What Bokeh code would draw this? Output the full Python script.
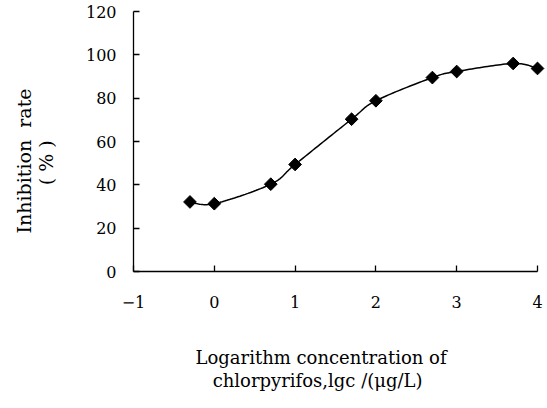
import numpy as np
from bokeh.plotting import figure
from bokeh.models import Range1d, FixedTicker, Title
from bokeh.embed import file_html
from bokeh.resources import INLINE

# ---- data ----
log_conc = [-0.301, 0.0, 0.699, 1.0, 1.699, 2.0, 2.699, 3.0, 3.699, 4.0]
inhibition = [32.1, 31.3, 40.3, 49.4, 70.3, 78.8, 89.5, 92.3, 96.0, 93.7]
x_ticks = [-1, 0, 1, 2, 3, 4]
y_ticks = [0, 20, 40, 60, 80, 100, 120]
x_label_lines = ["Logarithm concentration of", "chlorpyrifos,lgc /(\u03bcg/L)"]
y_label_lines = ["Inhibition\u00a0\u00a0rate", "(\u00a0%\u00a0)"]

FONT = "DejaVu Serif"
NB = "\u00a0"


def smooth(xs, ys, n=24):
    """Excel-style smoothed line (Catmull-Rom as cubic Bezier)."""
    pts = np.column_stack([xs, ys]).astype(float)
    out = []
    m = len(pts)
    for i in range(m - 1):
        p0 = pts[i - 1] if i > 0 else pts[i]
        p1 = pts[i]
        p2 = pts[i + 1]
        p3 = pts[i + 2] if i + 2 < m else pts[i + 1]
        c1 = p1 + (p2 - p0) / 6.0
        c2 = p2 - (p3 - p1) / 6.0
        t = np.linspace(0, 1, n, endpoint=(i == m - 2))[:, None]
        seg = ((1 - t) ** 3) * p1 + 3 * ((1 - t) ** 2) * t * c1 + 3 * (1 - t) * t ** 2 * c2 + t ** 3 * p2
        out.append(seg)
    arr = np.vstack(out)
    return arr[:, 0], arr[:, 1]


p = figure(width=545, height=405,
           x_range=Range1d(-1, 4.099), y_range=Range1d(0, 120),
           output_backend="svg", toolbar_location=None,
           min_border_left=133, min_border_right=0,
           min_border_top=11, min_border_bottom=134)
p.outline_line_color = None
p.grid.visible = False
p.background_fill_color = "white"
p.border_fill_color = "white"

for ax in (p.xaxis[0], p.yaxis[0]):
    ax.axis_line_color = "black"
    ax.axis_line_width = 1.3
    ax.major_tick_line_color = "black"
    ax.major_tick_line_width = 1.3
    ax.major_tick_in = 6
    ax.major_tick_out = 0
    ax.minor_tick_line_color = None
    ax.major_label_text_font = FONT
    ax.major_label_text_font_size = "16px"
    ax.major_label_text_color = "black"

p.xaxis[0].ticker = FixedTicker(ticks=x_ticks)
p.xaxis[0].bounds = (-1, 4)
p.xaxis[0].major_label_standoff = 24
p.xaxis[0].major_label_overrides = {-1: "\u22121"}
p.yaxis[0].ticker = FixedTicker(ticks=y_ticks)
p.yaxis[0].major_label_standoff = 17

sx, sy = smooth(log_conc, inhibition)
p.line(sx, sy, line_color="black", line_width=1.5)
p.scatter(log_conc, inhibition, marker="square", size=9, angle=np.pi / 4,
          fill_color="black", line_color="black")

# axis titles as multi-line Title objects in the border panels
x_title = NB + "\n" + x_label_lines[0] + "\n" + NB * 3 + x_label_lines[1]
y_title = y_label_lines[0] + "\n" + NB * 8 + y_label_lines[1] + "\n" + NB
p.add_layout(Title(text=x_title, align="left", offset=62, standoff=24,
                   text_font=FONT, text_font_size="18px", text_font_style="normal",
                   text_color="black", text_line_height=1.1), "below")
p.add_layout(Title(text=y_title, align="left", offset=38, standoff=8,
                   text_font=FONT, text_font_size="19px", text_font_style="normal",
                   text_color="black", text_line_height=1.0), "left")

open("out.html", "w").write(file_html(p, INLINE))
